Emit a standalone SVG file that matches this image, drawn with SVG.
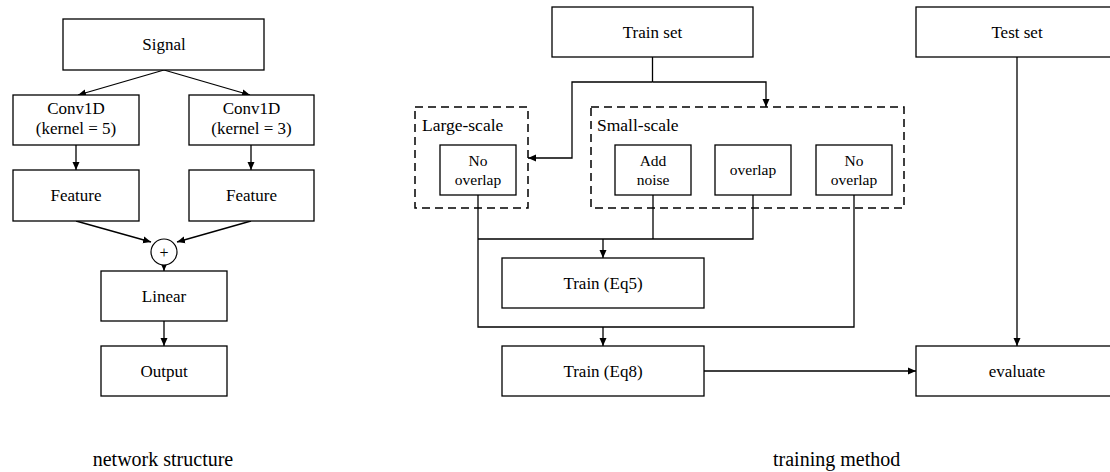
<svg xmlns="http://www.w3.org/2000/svg" width="1110" height="472" viewBox="0 0 1110 472">
<style>
.box{fill:#fff;stroke:#000;stroke-width:1.3}
.dash{fill:none;stroke:#000;stroke-width:1.5;stroke-dasharray:8 5}
.t{font-family:"Liberation Serif","Times New Roman",serif;font-size:17px;fill:#000;text-anchor:middle}
.s{font-family:"Liberation Serif","Times New Roman",serif;font-size:15.5px;fill:#000;text-anchor:middle}
.g{font-family:"Liberation Serif","Times New Roman",serif;font-size:17.5px;fill:#000}
.cap{font-family:"Liberation Serif","Times New Roman",serif;font-size:20px;fill:#000}
.c{fill:none;stroke:#000;stroke-width:1.3}
</style>
<defs>
<marker id="ah" markerWidth="8" markerHeight="8" refX="8" refY="4" orient="auto" markerUnits="userSpaceOnUse">
<path d="M0,0.5 L8,4 L0,7.5 z" fill="#000"/>
</marker>
</defs>
<rect width="1110" height="472" fill="#fff"/>

<g id="connectors">
<line class="c" x1="164" y1="70" x2="78" y2="95" marker-end="url(#ah)"/>
<line class="c" x1="164" y1="70" x2="250" y2="95" marker-end="url(#ah)"/>
<line class="c" x1="76" y1="145" x2="76" y2="170" marker-end="url(#ah)"/>
<line class="c" x1="251" y1="145" x2="251" y2="170" marker-end="url(#ah)"/>
<line class="c" x1="76" y1="221" x2="151" y2="242" marker-end="url(#ah)"/>
<line class="c" x1="251" y1="221" x2="177" y2="242" marker-end="url(#ah)"/>
<line class="c" x1="164" y1="258" x2="164" y2="271" marker-end="url(#ah)"/>
<line class="c" x1="164" y1="321" x2="164" y2="346" marker-end="url(#ah)"/>

<polyline class="c" points="652.5,57 652.5,82"/>
<polyline class="c" points="652.5,82 572,82 572,158 528,158" marker-end="url(#ah)"/>
<polyline class="c" points="652.5,82 766,82 766,107" marker-end="url(#ah)"/>
<polyline class="c" points="478,195 478,327 854,327 854,195"/>
<polyline class="c" points="478,239 753,239 753,195"/>
<line class="c" x1="653" y1="195" x2="653" y2="239"/>
<line class="c" x1="603" y1="239" x2="603" y2="258" marker-end="url(#ah)"/>
<line class="c" x1="603" y1="327" x2="603" y2="346" marker-end="url(#ah)"/>
<line class="c" x1="704" y1="371" x2="916" y2="371" marker-end="url(#ah)"/>
<line class="c" x1="1017" y1="57" x2="1017" y2="346" marker-end="url(#ah)"/>
</g>

<g id="signal"><rect class="box" x="63" y="19" width="201" height="51"/><text class="t" x="164" y="50">Signal</text></g>
<g id="conv5"><rect class="box" x="13" y="95" width="126" height="50"/><text class="t" x="76" y="114">Conv1D</text><text class="t" x="76" y="134">(kernel = 5)</text></g>
<g id="conv3"><rect class="box" x="189" y="95" width="125" height="50"/><text class="t" x="251.5" y="114">Conv1D</text><text class="t" x="251.5" y="134">(kernel = 3)</text></g>
<g id="feature1"><rect class="box" x="13" y="170" width="126" height="51"/><text class="t" x="76" y="201">Feature</text></g>
<g id="feature2"><rect class="box" x="189" y="170" width="125" height="51"/><text class="t" x="251.5" y="201">Feature</text></g>
<g id="sum"><circle cx="164" cy="252" r="13" fill="#fff" stroke="#000" stroke-width="1.2"/><text class="t" x="164" y="258" style="font-size:16px">+</text></g>
<g id="linear"><rect class="box" x="101" y="271" width="126" height="50"/><text class="t" x="164" y="302">Linear</text></g>
<g id="output"><rect class="box" x="101" y="346" width="126" height="50"/><text class="t" x="164" y="377">Output</text></g>
<g id="cap1"><text class="cap" x="163" y="466" text-anchor="middle">network structure</text></g>

<g id="trainset"><rect class="box" x="552" y="7" width="201" height="50"/><text class="t" x="652.5" y="38">Train set</text></g>
<g id="testset"><rect class="box" x="916" y="7" width="202" height="50"/><text class="t" x="1017" y="38">Test set</text></g>
<g id="large-scale"><rect class="dash" x="415" y="107" width="113" height="101"/><text class="g" x="422" y="131">Large-scale</text></g>
<g id="large-nooverlap"><rect class="box" x="440" y="145" width="76" height="50"/><text class="s" x="478" y="166">No</text><text class="s" x="478" y="185">overlap</text></g>
<g id="small-scale"><rect class="dash" x="591" y="107" width="313" height="101"/><text class="g" x="597" y="131">Small-scale</text></g>
<g id="addnoise"><rect class="box" x="615" y="145" width="76" height="50"/><text class="s" x="653" y="166">Add</text><text class="s" x="653" y="185">noise</text></g>
<g id="overlap"><rect class="box" x="715" y="145" width="76" height="50"/><text class="s" x="753" y="175">overlap</text></g>
<g id="small-nooverlap"><rect class="box" x="816" y="145" width="76" height="50"/><text class="s" x="854" y="166">No</text><text class="s" x="854" y="185">overlap</text></g>
<g id="train-eq5"><rect class="box" x="502" y="258" width="202" height="50"/><text class="t" x="603" y="289">Train (Eq5)</text></g>
<g id="train-eq8"><rect class="box" x="502" y="346" width="202" height="50"/><text class="t" x="603" y="377">Train (Eq8)</text></g>
<g id="evaluate"><rect class="box" x="916" y="346" width="202" height="50"/><text class="t" x="1017" y="377">evaluate</text></g>
<g id="cap2"><text class="cap" x="773" y="466">training method</text></g>
</svg>
